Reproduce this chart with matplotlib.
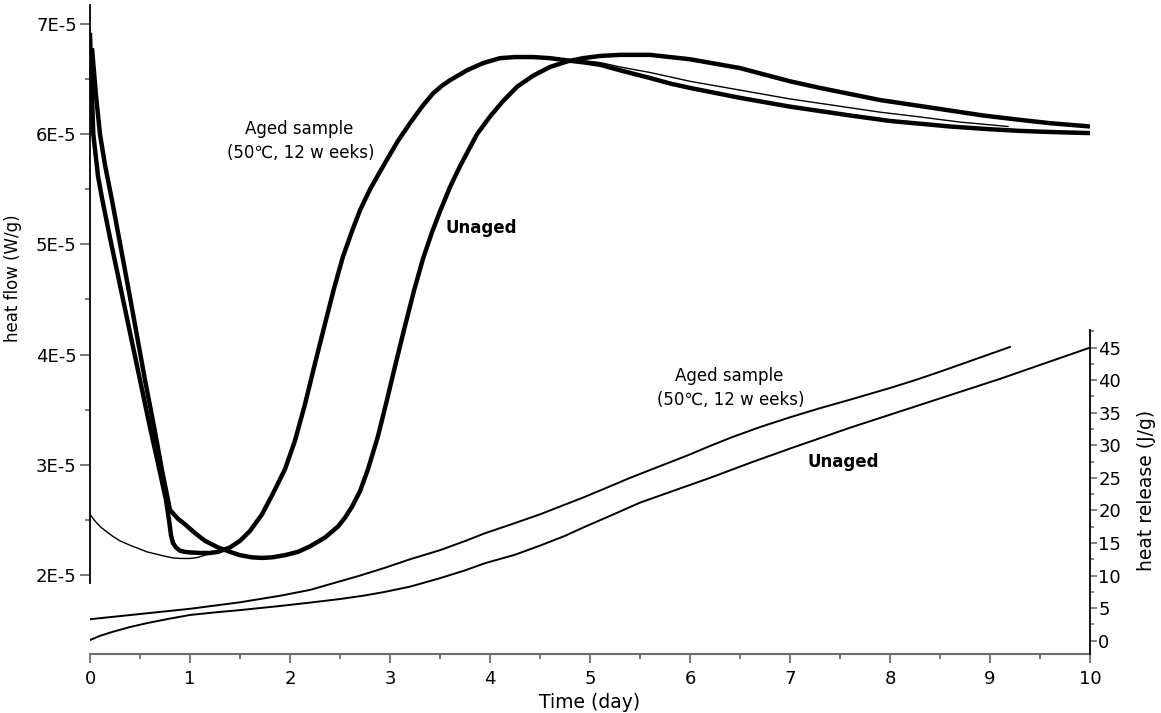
import matplotlib
matplotlib.use("Agg")
import matplotlib.pyplot as plt
from matplotlib.ticker import FixedLocator, FixedFormatter, NullFormatter

plt.rcParams['font.family'] = ['DejaVu Sans']

# ---------------- data ----------------
# heat flow, in units of 1E-5 W/g
aged_hf_t = [0.0, 0.01, 0.033, 0.08, 0.12, 0.2, 0.3, 0.4, 0.5, 0.6, 0.7, 0.76, 0.79,
             0.81, 0.83, 0.86, 0.9, 0.95, 1.0, 1.1, 1.2, 1.28, 1.4, 1.5, 1.6, 1.72,
             1.83, 1.95, 2.05, 2.15, 2.25, 2.35, 2.44, 2.53, 2.62, 2.7, 2.8, 2.9, 2.97,
             3.08, 3.2, 3.32, 3.43, 3.52, 3.6, 3.77, 3.93, 4.1, 4.25, 4.43, 4.6, 4.77,
             4.95, 5.1, 5.3, 5.6, 5.8, 6.0, 6.25, 6.5, 6.75, 7.0, 7.3, 7.6, 8.0, 8.3,
             8.6, 9.0, 9.3, 9.6, 10.0]
aged_hf = [6.92, 6.6, 6.0, 5.62, 5.42, 5.06, 4.63, 4.2, 3.77, 3.34, 2.93, 2.68, 2.5,
           2.36, 2.29, 2.25, 2.22, 2.21, 2.205, 2.2, 2.2, 2.21, 2.25, 2.31, 2.40, 2.55,
           2.74, 2.96, 3.22, 3.55, 3.92, 4.28, 4.6, 4.89, 5.12, 5.31, 5.5, 5.66, 5.77,
           5.94, 6.1, 6.25, 6.37, 6.44, 6.49, 6.58, 6.645, 6.69, 6.70, 6.70, 6.69, 6.67,
           6.65, 6.63, 6.58, 6.51, 6.46, 6.42, 6.375, 6.33, 6.29, 6.25, 6.21, 6.17, 6.12,
           6.095, 6.07, 6.045, 6.03, 6.02, 6.01]

unaged_hf_t = [0.02, 0.06, 0.1, 0.15, 0.22, 0.3, 0.4, 0.55, 0.65, 0.72, 0.8, 0.88,
               0.95, 1.05, 1.15, 1.28, 1.4, 1.5, 1.62, 1.72, 1.82, 1.95, 2.08, 2.2,
               2.35, 2.48, 2.55, 2.62, 2.7, 2.78, 2.88, 2.97, 3.06, 3.15, 3.24, 3.33,
               3.42, 3.5, 3.6, 3.7, 3.87, 4.0, 4.13, 4.27, 4.43, 4.6, 4.77, 4.93, 5.1,
               5.3, 5.6, 5.8, 6.0, 6.25, 6.5, 6.75, 7.0, 7.3, 7.6, 7.9, 8.27, 8.6, 8.93,
               9.3, 9.6, 10.0]
unaged_hf = [6.78, 6.35, 6.0, 5.72, 5.40, 5.01, 4.52, 3.77, 3.3, 2.95, 2.59, 2.51,
             2.46, 2.38, 2.31, 2.25, 2.21, 2.18, 2.16, 2.155, 2.16, 2.18, 2.21, 2.26,
             2.34, 2.44, 2.52, 2.62, 2.76, 2.96, 3.26, 3.59, 3.93, 4.26, 4.58, 4.87,
             5.11, 5.30, 5.52, 5.71, 6.0, 6.16, 6.3, 6.43, 6.53, 6.61, 6.66, 6.69, 6.71,
             6.72, 6.72, 6.70, 6.68, 6.64, 6.6, 6.54, 6.48, 6.42, 6.365, 6.31, 6.26,
             6.215, 6.17, 6.13, 6.1, 6.07]

thin_hf_t = [0.0, 0.05, 0.1, 0.17, 0.23, 0.3, 0.4, 0.5, 0.57, 0.66, 0.75, 0.83, 0.9,
             1.0, 1.08, 1.15, 1.22, 1.28, 1.4, 1.5, 1.6, 1.72, 1.83, 1.95, 2.05, 2.15,
             2.25, 2.35, 2.44, 2.53, 2.62, 2.7, 2.8, 2.9, 2.97, 3.08, 3.2, 3.32, 3.43,
             3.52, 3.6, 3.77, 3.93, 4.1, 4.25, 4.43, 4.6, 4.77, 4.95, 5.1, 5.3, 5.6,
             5.8, 6.0, 6.25, 6.5, 6.75, 7.0, 7.3, 7.6, 7.9, 8.27, 8.7, 9.18]
thin_hf = [2.55, 2.49, 2.44, 2.39, 2.35, 2.31, 2.27, 2.235, 2.21, 2.19, 2.17, 2.155,
           2.15, 2.15, 2.16, 2.18, 2.195, 2.21, 2.25, 2.31, 2.40, 2.55, 2.74, 2.96,
           3.22, 3.55, 3.92, 4.28, 4.6, 4.89, 5.12, 5.31, 5.5, 5.66, 5.77, 5.94, 6.1,
           6.25, 6.37, 6.44, 6.49, 6.58, 6.645, 6.69, 6.70, 6.70, 6.69, 6.675, 6.665,
           6.65, 6.61, 6.56, 6.52, 6.48, 6.44, 6.40, 6.36, 6.32, 6.28, 6.24, 6.2, 6.16,
           6.11, 6.07]

# heat release, J/g
aged_hr_t = [0.0, 0.25, 0.5, 0.75, 1.0, 1.25, 1.5, 1.9, 2.2, 2.45, 2.7, 2.95, 3.2,
             3.5, 3.75, 3.95, 4.2, 4.5, 4.7, 4.95, 5.2, 5.4, 5.7, 6.0, 6.2, 6.43, 6.7,
             7.0, 7.3, 7.6, 8.0, 8.25, 8.5, 8.85, 9.2]
aged_hr = [3.3, 3.7, 4.1, 4.5, 4.9, 5.4, 5.9, 6.9, 7.8, 8.9, 10.0, 11.2, 12.5, 13.9,
           15.3, 16.5, 17.8, 19.4, 20.6, 22.1, 23.7, 25.0, 26.8, 28.6, 29.9, 31.3,
           32.8, 34.3, 35.7, 37.0, 38.8, 40.0, 41.3, 43.2, 45.1]

unaged_hr_t = [0.0, 0.1, 0.23, 0.4, 0.57, 0.8, 1.0, 1.25, 1.5, 1.9, 2.2, 2.5, 2.75,
               2.95, 3.2, 3.5, 3.75, 3.95, 4.25, 4.5, 4.75, 4.95, 5.25, 5.5, 5.85, 6.2,
               6.6, 7.0, 7.3, 7.6, 8.0, 8.5, 9.1, 9.55, 10.0]
unaged_hr = [0.1, 0.75, 1.38, 2.1, 2.7, 3.4, 3.95, 4.35, 4.7, 5.33, 5.85, 6.4, 6.95,
             7.5, 8.3, 9.6, 10.8, 11.9, 13.2, 14.6, 16.1, 17.5, 19.5, 21.2, 23.1, 25.0,
             27.3, 29.5, 31.1, 32.7, 34.7, 37.2, 40.2, 42.6, 45.0]

x_ticks = [0, 1, 2, 3, 4, 5, 6, 7, 8, 9, 10]
hf_ticks = [2, 3, 4, 5, 6, 7]
hf_tick_labels = ["2E-5", "3E-5", "4E-5", "5E-5", "6E-5", "7E-5"]
hr_ticks = [0, 5, 10, 15, 20, 25, 30, 35, 40, 45]

# ---------------- figure ----------------
W, H = 1161, 713
fig = plt.figure(figsize=(W / 100, H / 100), dpi=100)
ax = fig.add_axes([90 / W, 59 / H, 1000 / W, 649 / H])

S = 1e-5
ax.set_xlim(0, 10)
ax.set_ylim(1.2831e-5, 7.1724e-5)

ax.plot(thin_hf_t, [v * S for v in thin_hf], color='black', lw=1.0, zorder=2)
ax.plot(unaged_hf_t, [v * S for v in unaged_hf], color='black', lw=3.2,
        solid_joinstyle='round', solid_capstyle='butt', zorder=3)
ax.plot(aged_hf_t, [v * S for v in aged_hf], color='black', lw=3.2,
        solid_joinstyle='round', solid_capstyle='butt', zorder=3)

# spines
ax.spines['top'].set_visible(False)
ax.spines['right'].set_visible(False)
ax.spines['left'].set_color('black')
ax.spines['left'].set_linewidth(1.3)
ax.spines['left'].set_bounds(1.927e-5, 7.1724e-5)
ax.spines['bottom'].set_color('#6e6e6e')
ax.spines['bottom'].set_linewidth(1.5)

ax.xaxis.set_major_locator(FixedLocator(x_ticks))
ax.xaxis.set_minor_locator(FixedLocator([x + 0.5 for x in x_ticks[:-1]]))
ax.tick_params(axis='x', which='major', direction='out', length=6.5, width=1.3,
               color='#6e6e6e', labelsize=13, pad=5, labelcolor='black')
ax.tick_params(axis='x', which='minor', direction='out', length=3.6, width=1.3,
               color='#6e6e6e')

ax.yaxis.set_major_locator(FixedLocator([v * S for v in hf_ticks]))
ax.yaxis.set_major_formatter(FixedFormatter(hf_tick_labels))
ax.yaxis.set_minor_locator(FixedLocator([(v + 0.5) * S for v in hf_ticks[:-1]]))
ax.yaxis.set_minor_formatter(NullFormatter())
ax.tick_params(axis='y', which='major', direction='out', length=7.5, width=1.3,
               color='#6e6e6e', labelsize=13, pad=2, labelcolor='black')
ax.tick_params(axis='y', which='minor', direction='out', length=3.5, width=1.3,
               color='#6e6e6e')

# secondary axis
ax2 = ax.twinx()
ax2.set_ylim(-2.04, 97.6)
ax2.plot(aged_hr_t, aged_hr, color='black', lw=1.4)
ax2.plot(unaged_hr_t, unaged_hr, color='black', lw=1.4)
for s in ['top', 'bottom', 'left']:
    ax2.spines[s].set_visible(False)
ax2.spines['right'].set_color('black')
ax2.spines['right'].set_linewidth(1.3)
ax2.spines['right'].set_bounds(-2.04, 47.7)
ax2.yaxis.set_major_locator(FixedLocator(hr_ticks))
ax2.yaxis.set_minor_locator(FixedLocator([v + 2.5 for v in hr_ticks]))
ax2.yaxis.set_minor_formatter(NullFormatter())
ax2.tick_params(axis='y', which='major', direction='out', length=5, width=1.2,
                color='#6e6e6e', labelsize=13, pad=1, labelcolor='black')
ax2.tick_params(axis='y', which='minor', direction='out', length=3, width=1.2,
                color='#6e6e6e')


def ftxt(px, py, s, **kw):
    fig.text(px / W, 1 - py / H, s, ha='center', va='center', **kw)


# axis labels
ftxt(13, 278, "heat flow (W/g)", rotation=90, fontsize=12)
ftxt(590, 703, "Time (day)", fontsize=13.5)
ftxt(1147, 490, "heat release (J/g)", rotation=90, fontsize=13.5)

# annotations
ftxt(299, 129, "Aged sample", fontsize=12)
ftxt(301, 153, "(50\u2103, 12 w eeks)", fontsize=12)
ftxt(481, 228, "Unaged", fontsize=12, fontweight='bold')
ftxt(729, 376, "Aged sample", fontsize=12)
ftxt(731, 400, "(50\u2103, 12 w eeks)", fontsize=12)
ftxt(843, 462, "Unaged", fontsize=12, fontweight='bold')

fig.savefig("out.png", dpi=100)
